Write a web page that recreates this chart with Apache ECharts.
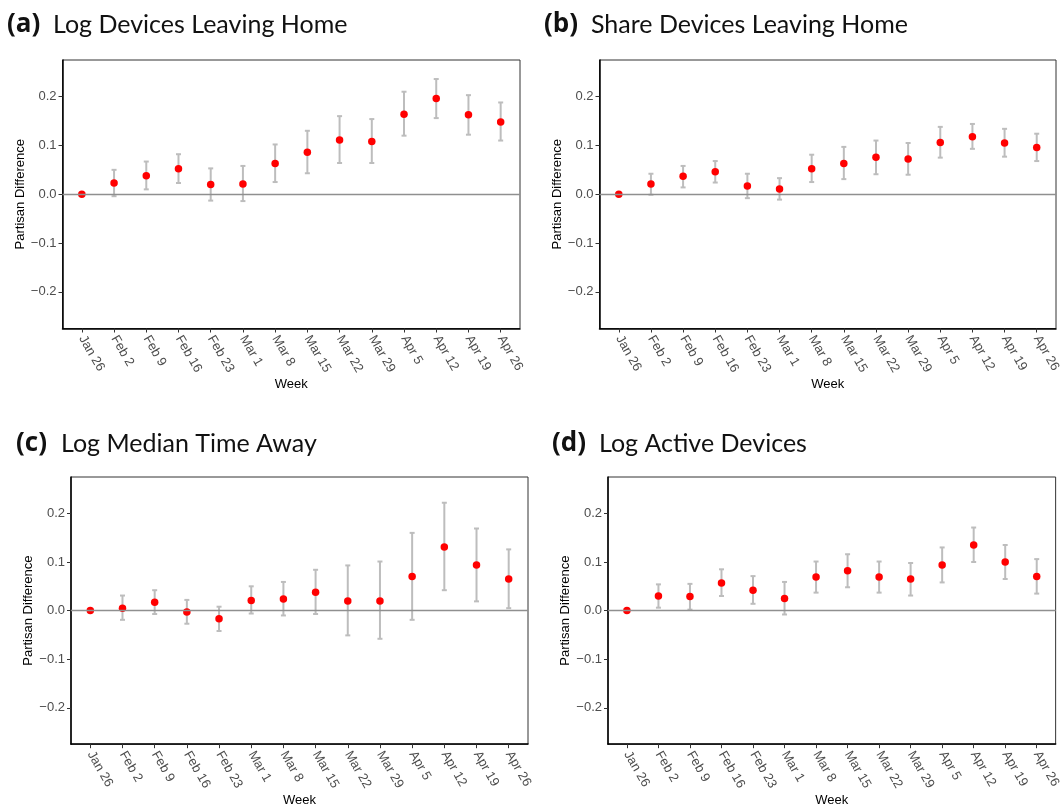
<!DOCTYPE html>
<html>
<head>
<meta charset="utf-8">
<script src="https://cdn.jsdelivr.net/npm/echarts@6/dist/echarts.min.js"></script>
<style>
  html, body { margin: 0; padding: 0; background: #fff; }
  #chart { width: 1063px; height: 808px; }
</style>
</head>
<body>
<div id="chart"></div>
<script>
// Week labels (x axis)
const weeks = ['Jan 26', 'Feb 2', 'Feb 9', 'Feb 16', 'Feb 23', 'Mar 1', 'Mar 8',
  'Mar 15', 'Mar 22', 'Mar 29', 'Apr 5', 'Apr 12', 'Apr 19', 'Apr 26'];
const yTicks = [-0.2, -0.1, 0, 0.1, 0.2];

// (a) Log devices leaving home
const logLeavingEst = [0, 0.023, 0.038, 0.052, 0.020, 0.021, 0.063, 0.086, 0.111, 0.108, 0.164, 0.196, 0.163, 0.148];
const logLeavingLo  = [0, -0.004, 0.010, 0.023, -0.013, -0.014, 0.025, 0.043, 0.064, 0.064, 0.120, 0.156, 0.122, 0.110];
const logLeavingHi  = [0, 0.050, 0.067, 0.082, 0.053, 0.058, 0.102, 0.130, 0.160, 0.154, 0.210, 0.236, 0.203, 0.188];

// (b) Share devices leaving home
const shareLeavingEst = [0, 0.021, 0.037, 0.046, 0.017, 0.011, 0.052, 0.063, 0.076, 0.072, 0.106, 0.118, 0.105, 0.096];
const shareLeavingLo  = [0, -0.001, 0.014, 0.024, -0.008, -0.011, 0.025, 0.031, 0.041, 0.040, 0.075, 0.093, 0.077, 0.068];
const shareLeavingHi  = [0, 0.042, 0.058, 0.068, 0.042, 0.033, 0.081, 0.097, 0.110, 0.105, 0.138, 0.144, 0.134, 0.124];

// (c) Log median time away
const timeAwayEst = [0, 0.005, 0.017, -0.003, -0.017, 0.021, 0.024, 0.038, 0.020, 0.020, 0.070, 0.131, 0.094, 0.065];
const timeAwayLo  = [0, -0.019, -0.007, -0.027, -0.042, -0.006, -0.010, -0.007, -0.051, -0.058, -0.019, 0.042, 0.019, 0.005];
const timeAwayHi  = [0, 0.031, 0.042, 0.022, 0.008, 0.050, 0.059, 0.084, 0.093, 0.101, 0.160, 0.222, 0.169, 0.126];

// (d) Log active devices
const activeEst = [0, 0.030, 0.029, 0.057, 0.042, 0.025, 0.069, 0.082, 0.069, 0.065, 0.094, 0.135, 0.100, 0.070];
const activeLo  = [0, 0.006, 0.002, 0.030, 0.014, -0.008, 0.037, 0.048, 0.037, 0.031, 0.058, 0.100, 0.065, 0.035];
const activeHi  = [0, 0.054, 0.055, 0.085, 0.071, 0.059, 0.101, 0.116, 0.101, 0.098, 0.130, 0.171, 0.135, 0.106];

const panels = [
  { tag: '(a)', title: 'Log Devices Leaving Home', est: logLeavingEst, lo: logLeavingLo, hi: logLeavingHi,
    grid: { left: 62.5, top: 60, width: 457.5, height: 268.5 }, tagX: 7, textX: 53, titleY: 9 },
  { tag: '(b)', title: 'Share Devices Leaving Home', est: shareLeavingEst, lo: shareLeavingLo, hi: shareLeavingHi,
    grid: { left: 599.5, top: 60, width: 457, height: 268.5 }, tagX: 544, textX: 591, titleY: 9 },
  { tag: '(c)', title: 'Log Median Time Away', est: timeAwayEst, lo: timeAwayLo, hi: timeAwayHi,
    grid: { left: 71, top: 477, width: 457, height: 269 }, tagX: 16, textX: 61, titleY: 427.5 },
  { tag: '(d)', title: 'Log Active Devices', est: activeEst, lo: activeLo, hi: activeHi,
    grid: { left: 608, top: 477, width: 457, height: 269 }, tagX: 552, textX: 599, titleY: 427.5 }
];

const tickFont = 'Liberation Sans, Arial, sans-serif';
const fmtY = v => {
  const s = Math.abs(v).toFixed(1);
  return v < -1e-9 ? '\u2212' + s : s;
};

const option = {
  backgroundColor: '#ffffff',
  animation: false,
  title: [],
  grid: [],
  xAxis: [],
  yAxis: [],
  series: []
};

panels.forEach((p, i) => {
  // panel tag, e.g. "(a)"
  option.title.push({
    text: p.tag,
    left: p.tagX,
    top: p.titleY - 1,
    padding: 0,
    textStyle: { fontFamily: 'Open Sans', fontWeight: 'bold', fontSize: 26, color: '#111', lineHeight: 34 }
  });
  // panel heading
  option.title.push({
    text: p.title,
    left: p.textX,
    top: p.titleY,
    padding: 0,
    textStyle: { fontFamily: 'Lato', fontWeight: 'normal', fontSize: 25, color: '#111', lineHeight: 32 }
  });

  option.grid.push(Object.assign({
    show: true,
    borderColor: '#333333',
    borderWidth: 1,
    backgroundColor: '#ffffff',
    containLabel: false
  }, p.grid));

  option.xAxis.push({
    type: 'value',
    gridIndex: i,
    min: -0.6,
    max: 13.6,
    name: 'Week',
    nameLocation: 'middle',
    nameGap: 49,
    nameTextStyle: { fontFamily: tickFont, fontSize: 13, color: '#000' },
    axisLine: { show: true, onZero: false, lineStyle: { color: '#000', width: 1.5 } },
    axisTick: { show: true, length: 4, customValues: weeks.map((w, k) => k), lineStyle: { color: '#333', width: 1 } },
    axisLabel: {
      customValues: weeks.map((w, k) => k),
      formatter: v => weeks[Math.round(v)],
      rotate: -60,
      margin: 8,
      fontFamily: tickFont,
      fontSize: 13,
      color: '#4d4d4d'
    },
    splitLine: { show: false }
  });

  option.yAxis.push({
    type: 'value',
    gridIndex: i,
    min: -0.275,
    max: 0.275,
    name: 'Partisan Difference',
    nameLocation: 'middle',
    nameRotate: 90,
    nameGap: 36,
    nameTextStyle: { fontFamily: tickFont, fontSize: 13, color: '#000' },
    axisLine: { show: true, onZero: false, lineStyle: { color: '#000', width: 1.5 } },
    axisTick: { show: true, length: 4, customValues: yTicks, lineStyle: { color: '#333', width: 1 } },
    axisLabel: {
      customValues: yTicks,
      formatter: fmtY,
      margin: 6,
      fontFamily: tickFont,
      fontSize: 13,
      color: '#4d4d4d'
    },
    splitLine: { show: false }
  });

  // horizontal reference line at zero
  option.series.push({
    type: 'line',
    xAxisIndex: i,
    yAxisIndex: i,
    data: [],
    silent: true,
    markLine: {
      silent: true,
      symbol: ['none', 'none'],
      label: { show: false },
      lineStyle: { color: '#8f8f8f', width: 1.3, type: 'solid' },
      data: [{ yAxis: 0 }]
    }
  });

  // confidence intervals
  option.series.push({
    type: 'custom',
    xAxisIndex: i,
    yAxisIndex: i,
    silent: true,
    data: weeks.map((w, k) => [k, p.lo[k], p.hi[k]]),
    encode: { x: 0, y: [1, 2] },
    renderItem: (params, api) => {
      const x = api.value(0);
      const top = api.coord([x, api.value(2)]);
      const bot = api.coord([x, api.value(1)]);
      const cap = 2.5;
      const style = { stroke: '#bdbdbd', lineWidth: 2 };
      return {
        type: 'group',
        children: [
          { type: 'line', shape: { x1: top[0], y1: top[1], x2: bot[0], y2: bot[1] }, style },
          { type: 'line', shape: { x1: top[0] - cap, y1: top[1], x2: top[0] + cap, y2: top[1] }, style },
          { type: 'line', shape: { x1: bot[0] - cap, y1: bot[1], x2: bot[0] + cap, y2: bot[1] }, style }
        ]
      };
    }
  });

  // point estimates
  option.series.push({
    type: 'scatter',
    xAxisIndex: i,
    yAxisIndex: i,
    symbol: 'circle',
    symbolSize: 7.5,
    itemStyle: { color: '#ff0000', opacity: 1 },
    data: weeks.map((w, k) => [k, p.est[k]])
  });
});

const chart = echarts.init(document.getElementById('chart'), null, { renderer: 'canvas' });
chart.setOption(option);
</script>
</body>
</html>
